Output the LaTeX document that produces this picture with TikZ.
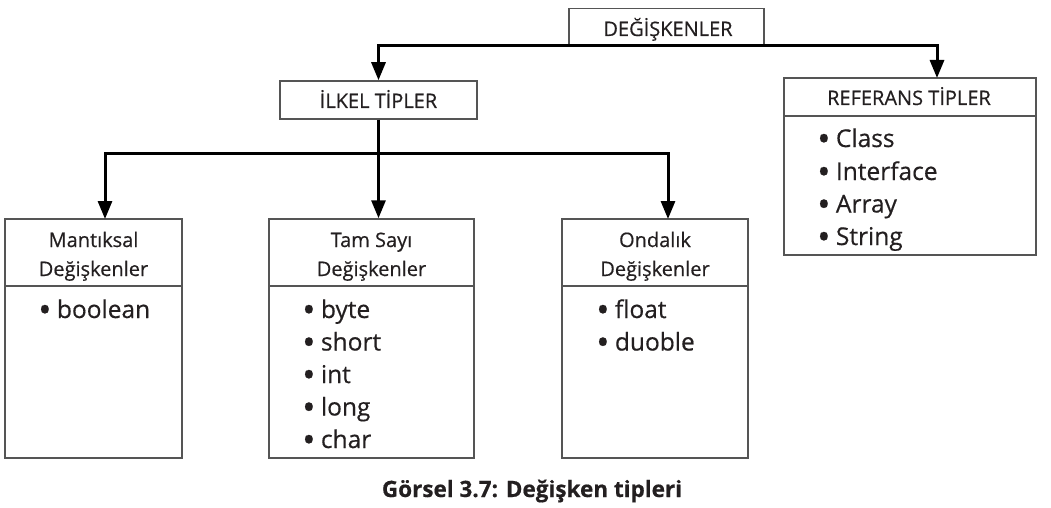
\documentclass[tikz,border=0pt]{standalone}
\usepackage{fontspec}
\setmainfont{Open Sans}[RawFeature={embolden=0.5}]
\usetikzlibrary{arrows.meta}
\definecolor{boxgray}{HTML}{555555}
\definecolor{ink}{HTML}{231F20}
\newcommand\hdrfont{\fontsize{20}{24}\selectfont}
\newcommand\itmfont{\fontsize{24.5}{28}\selectfont}
\newcommand\capfont{\fontsize{22.5}{26}\selectfont\bfseries}
\newcommand\bul{\raisebox{-0.17em}{\scalebox{1.45}{•}}\hspace{0.22em}}
\begin{document}
\begin{tikzpicture}[x=1pt,y=-1pt,
  box/.style={draw=boxgray,line width=1.5pt,rectangle,inner sep=0pt},
  divider/.style={draw=boxgray,line width=1.5pt},
  conn/.style={draw=black,line width=3pt,-{Triangle[width=14pt,length=18pt]}},
  hdr/.style={anchor=base,inner sep=0pt,text=ink,font=\hdrfont},
  itm/.style={anchor=base west,inner sep=0pt,text=ink,font=\itmfont},
  captxt/.style={anchor=base,inner sep=0pt,text=ink,font=\capfont}]
\useasboundingbox (0,0) rectangle (1051,508);
% boxes
\node[box,minimum width=195pt,minimum height=36pt] (deg) at (666.5,26.5) {};
\node[box,minimum width=197pt,minimum height=38pt] (ilkel) at (378.5,100) {};
\node[box,minimum width=252pt,minimum height=177pt] (ref) at (910,166.5) {};
\node[box,minimum width=177pt,minimum height=239pt] (mant) at (93.5,338.5) {};
\node[box,minimum width=205pt,minimum height=239pt] (tam) at (371.5,338.5) {};
\node[box,minimum width=186pt,minimum height=239pt] (ond) at (655,338.5) {};
% dividers
\draw[divider] (ref.west |- 0,116) -- (ref.east |- 0,116);
\draw[divider] (mant.west |- 0,286) -- (mant.east |- 0,286);
\draw[divider] (tam.west |- 0,286) -- (tam.east |- 0,286);
\draw[divider] (ond.west |- 0,286) -- (ond.east |- 0,286);
% titles
\node[hdr] (tdeg) at (668,36) {DEĞİŞKENLER};
\node[hdr] (tilk) at (378.5,108) {İLKEL TİPLER};
\node[hdr] (tref) at (909,105) {REFERANS TİPLER};
\node[hdr] (tm1) at (93.5,247) {Mantıksal};
\node[hdr] (tm2) at (93.5,276) {Değişkenler};
\node[hdr] (tt1) at (371.5,247) {Tam Sayı};
\node[hdr] (tt2) at (371.5,276) {Değişkenler};
\node[hdr] (to1) at (655,247) {Ondalık};
\node[hdr] (to2) at (655,276) {Değişkenler};
% lists
\node[itm] (r1) at (817,147) {\bul Class};
\node[itm] (r2) at (817,180) {\bul Interface};
\node[itm] (r3) at (817,212.5) {\bul Array};
\node[itm] (r4) at (817,245) {\bul String};
\node[itm] (m1) at (38,318) {\bul boolean};
\node[itm] (t1) at (302,318) {\bul byte};
\node[itm] (t2) at (302,350.5) {\bul short};
\node[itm] (t3) at (302,383) {\bul int};
\node[itm] (t4) at (302,415.5) {\bul long};
\node[itm] (t5) at (302,448) {\bul char};
\node[itm] (o1) at (596,318) {\bul float};
\node[itm] (o2) at (596,350.5) {\bul duoble};
% connectors
\coordinate (rj) at (937,78);
\coordinate (split) at (378.5,153);
\coordinate (mj) at (105,219);
\coordinate (oj) at (668,219);
\draw[conn] (deg.south) -| (ilkel.north);
\draw[conn] (deg.south) -| (rj);
\draw[conn] (ilkel.south) -- (ilkel.south |- tam.north);
\draw[conn] (split) -| (mj);
\draw[conn] (split) -| (oj);
% caption
\node[captxt] (caption) at (532,497) {Görsel 3.7: Değişken tipleri};
\end{tikzpicture}
\end{document}
